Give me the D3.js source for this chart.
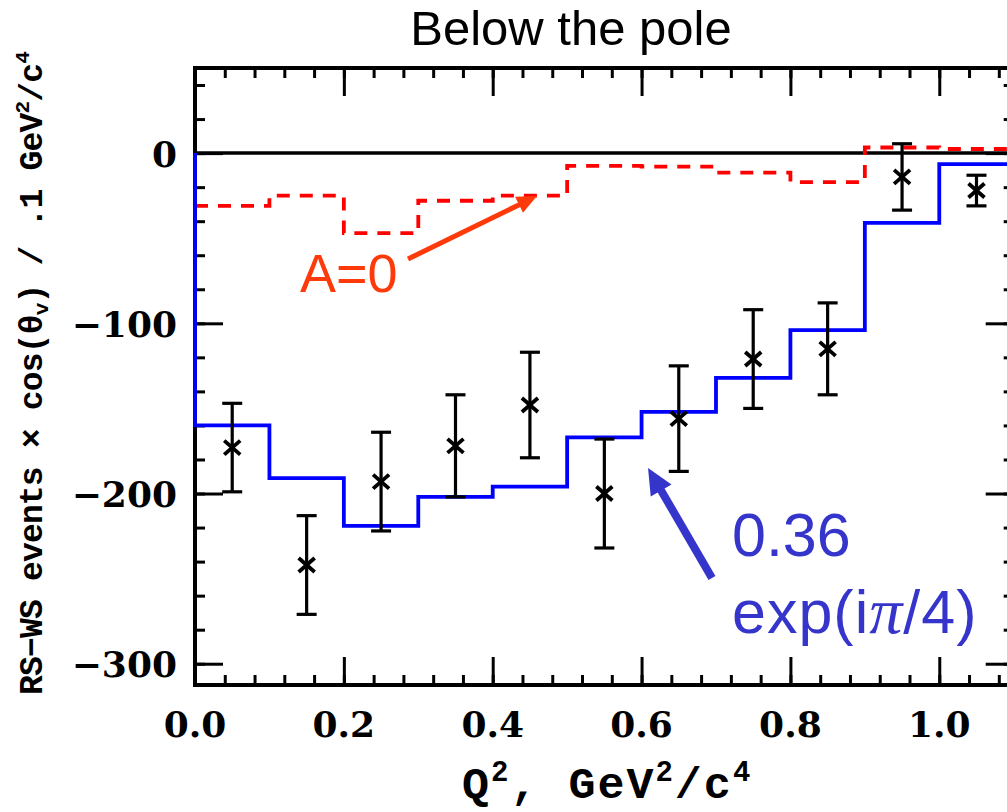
<!DOCTYPE html>
<html>
<head>
<meta charset="utf-8">
<script src="https://cdn.jsdelivr.net/npm/d3@7"></script>
<style>
  body { margin: 0; background: #fff; }
  svg { display: block; }
</style>
</head>
<body>
<script>
// Q^2 bins (0.1 GeV^2/c^4 wide)
const binEdges   = [0.0, 0.1, 0.2, 0.3, 0.4, 0.5, 0.6, 0.7, 0.8, 0.9, 1.0, 1.1];
const binCenters = [0.05, 0.15, 0.25, 0.35, 0.45, 0.55, 0.65, 0.75, 0.85, 0.95, 1.05];

// measured RS-WS yield per bin and its uncertainty
const dataValues = [-173, -242, -193, -172, -148, -200, -156, -121, -115, -14, -22];
const dataErrors = [26, 29, 29, 30, 31, 32, 31, 29, 27, 19.5, 9];

// model histograms: 0.36 exp(i pi/4) and A = 0
const fitPhase = [-160, -191, -219, -202, -196, -167, -152, -132, -104, -41, -6.5];
const fitZero  = [-31, -25, -47, -28, -25, -7.5, -8, -11.5, -17, 3.3, 2.4];

// axis ticks
const xMajorTicks = [0.0, 0.2, 0.4, 0.6, 0.8, 1.0];
const xTickLabels = ["0.0", "0.2", "0.4", "0.6", "0.8", "1.0"];
const yMajorTicks = [0, -100, -200, -300];
const yTickLabels = ["0", "\u2212100", "\u2212200", "\u2212300"];

const W = 1007, H = 812;
const svg = d3.select("body").append("svg").attr("width", W).attr("height", H);

const x = d3.scaleLinear().domain([0, 1.1]).range([195, 1013.7]);
const y = d3.scaleLinear().domain([-312.5, 50]).range([685, 68]);

const [x0, x1] = x.range();
const [yB, yT] = y.range();

// title
svg.append("text")
  .attr("x", 571).attr("y", 45)
  .attr("text-anchor", "middle")
  .style("font-family", "'Liberation Sans', Arial, sans-serif")
  .style("font-size", "49px")
  .text("Below the pole");

// minor + major ticks on all four sides, pointing inward
const xMinor = d3.range(0, 1.1001, 0.04);
const yMinor = d3.range(-300, 50.001, 20);

function tickGroup(axis, tx, ty) {
  const g = svg.append("g").attr("transform", `translate(${tx},${ty})`).call(axis);
  g.select(".domain").remove();
  g.selectAll("text").remove();
  g.selectAll("line").attr("stroke", "#000").attr("stroke-width", 3);
  return g;
}
tickGroup(d3.axisBottom(x).tickValues(xMinor).tickSize(-10), 0, yB);
tickGroup(d3.axisBottom(x).tickValues(xMajorTicks).tickSize(-28), 0, yB);
tickGroup(d3.axisTop(x).tickValues(xMinor).tickSize(-10), 0, yT);
tickGroup(d3.axisTop(x).tickValues(xMajorTicks).tickSize(-28), 0, yT);
tickGroup(d3.axisLeft(y).tickValues(yMinor).tickSize(-10), x0, 0);
tickGroup(d3.axisLeft(y).tickValues(yMajorTicks).tickSize(-28), x0, 0);
tickGroup(d3.axisRight(y).tickValues(yMinor).tickSize(-10), x1, 0);
tickGroup(d3.axisRight(y).tickValues(yMajorTicks).tickSize(-28), x1, 0);

// frame
svg.append("rect")
  .attr("x", x0).attr("y", yT)
  .attr("width", x1 - x0).attr("height", yB - yT)
  .attr("fill", "none").attr("stroke", "#000").attr("stroke-width", 4);

// zero line
svg.append("line")
  .attr("x1", x0).attr("x2", x1)
  .attr("y1", y(0)).attr("y2", y(0))
  .attr("stroke", "#000").attr("stroke-width", 3.5);

// tick labels
const tickFont = "'DejaVu Serif', serif";
svg.append("g").selectAll("text").data(xMajorTicks).join("text")
  .attr("x", d => x(d)).attr("y", 737)
  .attr("text-anchor", "middle")
  .style("font-family", tickFont).style("font-weight", "bold").style("font-size", "36px")
  .text((d, i) => xTickLabels[i]);

svg.append("g").selectAll("text").data(yMajorTicks).join("text")
  .attr("x", 177).attr("y", d => y(d) + 13.5)
  .attr("text-anchor", "end")
  .style("font-family", tickFont).style("font-weight", "bold").style("font-size", "36px")
  .text((d, i) => yTickLabels[i]);

// axis titles
const monoFont = "'Liberation Mono', 'Courier New', monospace";
const xTitle = svg.append("text")
  .attr("x", 462).attr("y", 798)
  .style("font-family", monoFont).style("font-weight", "bold").style("font-size", "45px")
  .style("letter-spacing", "2px");
xTitle.append("tspan").text("Q");
xTitle.append("tspan").attr("dy", -17).style("font-size", "29px").text("2");
xTitle.append("tspan").attr("dy", 17).text(", GeV");
xTitle.append("tspan").attr("dy", -17).style("font-size", "29px").text("2");
xTitle.append("tspan").attr("dy", 17).text("/c");
xTitle.append("tspan").attr("dy", -17).style("font-size", "29px").text("4");

const yTitle = svg.append("text")
  .attr("transform", "translate(42,373.5) rotate(-90)")
  .attr("text-anchor", "middle")
  .style("font-family", monoFont).style("font-weight", "bold").style("font-size", "33px");
yTitle.append("tspan").text("RS\u2212WS events \u00d7 cos(\u03b8");
yTitle.append("tspan").attr("dy", 6).style("font-size", "21px").text("v");
yTitle.append("tspan").attr("dy", -6).text(") / .1 GeV");
yTitle.append("tspan").attr("dy", -13).style("font-size", "21px").text("2");
yTitle.append("tspan").attr("dy", 13).text("/c");
yTitle.append("tspan").attr("dy", -13).style("font-size", "21px").text("4");

// stretch the title spacing to the axis length
(function fitSpacing(sel, target) {
  const len = sel.node().getComputedTextLength();
  const n = sel.text().length;
  sel.style("letter-spacing", ((target - len) / n) + "px");
})(yTitle, 643);

// histograms drawn as step curves
const stepLine = d3.line().x(d => x(d[0])).y(d => y(d[1])).curve(d3.curveStepAfter);
function histPoints(vals, fromZero) {
  const pts = vals.map((v, i) => [binEdges[i], v]);
  pts.push([binEdges[binEdges.length - 1], vals[vals.length - 1]]);
  if (fromZero) pts.unshift([binEdges[0], 0]);
  return pts;
}

svg.append("path")
  .attr("d", stepLine(histPoints(fitZero, false)))
  .attr("fill", "none").attr("stroke", "#ff0000")
  .attr("stroke-width", 3.8).attr("stroke-dasharray", "13,10");

svg.append("path")
  .attr("d", stepLine(histPoints(fitPhase, true)))
  .attr("fill", "none").attr("stroke", "#0000ff")
  .attr("stroke-width", 3.8);

// data points: error bars with caps and x markers
const pts = svg.append("g").attr("stroke", "#000").attr("stroke-width", 3.2);
binCenters.forEach((c, i) => {
  const cx = x(c), v = dataValues[i], e = dataErrors[i];
  pts.append("line").attr("x1", cx).attr("x2", cx).attr("y1", y(v + e)).attr("y2", y(v - e));
  pts.append("line").attr("x1", cx - 10).attr("x2", cx + 10).attr("y1", y(v + e)).attr("y2", y(v + e));
  pts.append("line").attr("x1", cx - 10).attr("x2", cx + 10).attr("y1", y(v - e)).attr("y2", y(v - e));
  const cy = y(v);
  pts.append("line").attr("x1", cx - 8).attr("x2", cx + 8).attr("y1", cy - 7).attr("y2", cy + 7).attr("stroke-width", 3.8);
  pts.append("line").attr("x1", cx - 8).attr("x2", cx + 8).attr("y1", cy + 7).attr("y2", cy - 7).attr("stroke-width", 3.8);
});

// annotation arrows (positions in data units)
function arrow(from, to, color, width, headLen, headHalf) {
  const ax = x(from[0]), ay = y(from[1]), bx = x(to[0]), by = y(to[1]);
  const dx = bx - ax, dy = by - ay, L = Math.hypot(dx, dy);
  const ux = dx / L, uy = dy / L;
  const baseX = bx - ux * headLen, baseY = by - uy * headLen;
  svg.append("line")
    .attr("x1", ax).attr("y1", ay).attr("x2", baseX + ux * 2).attr("y2", baseY + uy * 2)
    .attr("stroke", color).attr("stroke-width", width);
  svg.append("polygon")
    .attr("points", [
      [bx, by],
      [baseX - uy * headHalf, baseY + ux * headHalf],
      [baseX + uy * headHalf, baseY - ux * headHalf]
    ].map(p => p.join(",")).join(" "))
    .attr("fill", color);
}

const zeroColor = "#ff3a0a", phaseColor = "#3535cc";
arrow([0.2862, -62.2], [0.4595, -25.2], zeroColor, 5, 20, 9);
arrow([0.6946, -249.6], [0.6087, -185], phaseColor, 8, 26, 12);

const annFont = "'Liberation Sans', Arial, sans-serif";
svg.append("text")
  .attr("x", x(0.141)).attr("y", y(-81.6))
  .style("font-family", annFont).style("font-size", "54px").attr("fill", zeroColor)
  .text("A=0");

svg.append("text")
  .attr("x", x(0.7215)).attr("y", y(-236.7))
  .style("font-family", annFont).style("font-size", "61px").attr("fill", phaseColor)
  .text("0.36");

const expText = svg.append("text")
  .attr("x", x(0.7215)).attr("y", y(-282))
  .style("font-family", annFont).style("font-size", "61px").attr("fill", phaseColor)
  .style("letter-spacing", "1px");
expText.append("tspan").text("exp(i");
expText.append("tspan").style("font-family", "'Liberation Serif', serif").style("font-style", "italic")
  .style("font-size", "66px").text("\u03c0");
expText.append("tspan").text("/4)");
</script>
</body>
</html>
